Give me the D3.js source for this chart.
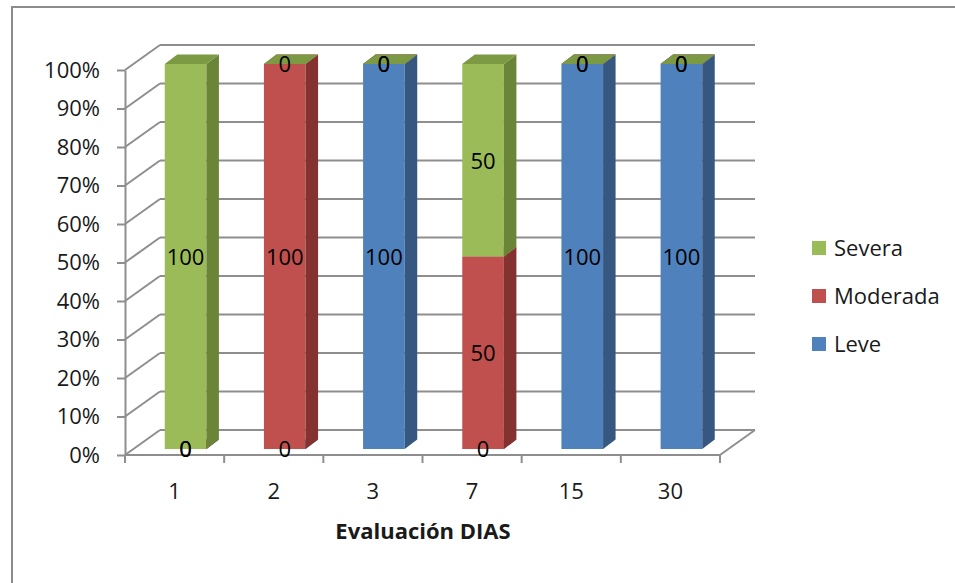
<!DOCTYPE html>
<html>
<head>
<meta charset="utf-8">
<script src="https://cdn.jsdelivr.net/npm/d3@7"></script>
<style>
  html, body { margin: 0; padding: 0; background: #fff; }
  svg { display: block; font-family: "Open Sans", "Noto Sans", sans-serif; }
</style>
</head>
<body>
<svg id="chart" width="955" height="583"></svg>
<script>
// Evaluation days and the share of each severity level
const categories = ["1", "2", "3", "7", "15", "30"];
const leve     = [0, 0, 100, 0, 100, 100];
const moderada = [0, 100, 0, 50, 0, 0];
const severa   = [100, 0, 0, 50, 0, 0];
const seriesNames = ["Leve", "Moderada", "Severa"];
const yTicks = [0, 0.1, 0.2, 0.3, 0.4, 0.5, 0.6, 0.7, 0.8, 0.9, 1];
const axisTitle = "Evaluación DIAS";

const seriesValues = [leve, moderada, severa];
const palette = {
  Leve:     { front: "#4F81BD", side: "#36577F", top: "#4272AB" },
  Moderada: { front: "#C0504D", side: "#833230", top: "#A84543" },
  Severa:   { front: "#9BBB59", side: "#6A8538", top: "#7B9A43" }
};

const svg = d3.select("#chart");
const gridColor = "#8e8e8e";

// outer chart frame
svg.append("rect")
  .attr("x", 12).attr("y", 7).attr("width", 980).attr("height", 600)
  .attr("fill", "none").attr("stroke", "#8c8c8c").attr("stroke-width", 2);

// front plane scales
const x = d3.scaleBand().domain(categories).range([125, 720]);
const y = d3.scaleLinear().domain([0, 1]).range([455, 70]);

// oblique projection of the plot depth
const depth = { dx: 35, dy: -25 };
const barOffset = { dx: 11, dy: -6 };   // front face of bars inside the box
const barDepth = { dx: 12.5, dy: -9.5 };
const barWidth = x.bandwidth() * 0.42;

const walls = svg.append("g");

// back wall gridlines and side wall diagonals
yTicks.forEach(t => {
  const yy = y(t);
  walls.append("line")
    .attr("x1", x.range()[0] + depth.dx).attr("y1", yy + depth.dy)
    .attr("x2", x.range()[1] + depth.dx).attr("y2", yy + depth.dy)
    .attr("stroke", gridColor).attr("stroke-width", 2);
  walls.append("line")
    .attr("x1", x.range()[0]).attr("y1", yy)
    .attr("x2", x.range()[0] + depth.dx).attr("y2", yy + depth.dy)
    .attr("stroke", gridColor).attr("stroke-width", 2);
});

// floor: front edge and right edge
walls.append("line")
  .attr("x1", x.range()[0]).attr("y1", y(0))
  .attr("x2", x.range()[1]).attr("y2", y(0))
  .attr("stroke", gridColor).attr("stroke-width", 2);
walls.append("line")
  .attr("x1", x.range()[1]).attr("y1", y(0))
  .attr("x2", x.range()[1] + depth.dx).attr("y2", y(0) + depth.dy)
  .attr("stroke", gridColor).attr("stroke-width", 2);

// vertical axis
const yAxis = d3.axisLeft(y)
  .tickValues(yTicks)
  .tickFormat(d3.format(".0%"))
  .tickSize(8)
  .tickSizeOuter(0)
  .tickPadding(17);
const gy = svg.append("g").attr("transform", `translate(${x.range()[0]},0)`).call(yAxis);
gy.select(".domain").attr("stroke", gridColor).attr("stroke-width", 2);
gy.selectAll(".tick line").attr("stroke", gridColor).attr("stroke-width", 2);
gy.selectAll(".tick text")
  .attr("font-size", 22).attr("fill", "#1a1a1a")
  .attr("font-family", "'Open Sans', sans-serif");

// horizontal axis: ticks between categories, labels centred
const gx = svg.append("g").attr("transform", `translate(0,${y(0)})`);
const boundaries = categories.map(c => x(c)).concat([x.range()[1]]);
gx.selectAll("line.tk").data(boundaries).join("line")
  .attr("class", "tk")
  .attr("x1", d => d).attr("x2", d => d)
  .attr("y1", 0).attr("y2", 8)
  .attr("stroke", gridColor).attr("stroke-width", 2);
gx.selectAll("text").data(categories).join("text")
  .attr("x", d => x(d) + x.bandwidth() / 2)
  .attr("y", 44)
  .attr("text-anchor", "middle")
  .attr("font-size", 22).attr("fill", "#1a1a1a")
  .text(d => d);

svg.append("text")
  .attr("x", 423).attr("y", 539)
  .attr("text-anchor", "middle")
  .attr("font-size", 22).attr("font-weight", "bold").attr("fill", "#1a1a1a")
  .text(axisTitle);

// stacked 100% data
const rows = categories.map((c, i) => {
  const row = { cat: c };
  seriesNames.forEach((s, k) => { row[s] = seriesValues[k][i]; });
  return row;
});
const stack = d3.stack().keys(seriesNames).offset(d3.stackOffsetExpand);
const stacked = stack(rows);

const bars = svg.append("g");
const labels = [];

stacked.forEach(layer => {
  const col = palette[layer.key];
  layer.forEach((seg, i) => {
    const cat = categories[i];
    const x0 = x(cat) + (x.bandwidth() - barWidth) / 2 + barOffset.dx;
    const x1 = x0 + barWidth;
    const yb = y(seg[0]) + barOffset.dy;
    const yt = y(seg[1]) + barOffset.dy;
    const g = bars.append("g");
    // front face
    g.append("path")
      .attr("d", `M${x0},${yb}L${x1},${yb}L${x1},${yt}L${x0},${yt}Z`)
      .attr("fill", col.front);
    // right side face
    g.append("path")
      .attr("d", `M${x1},${yb}L${x1 + barDepth.dx},${yb + barDepth.dy}L${x1 + barDepth.dx},${yt + barDepth.dy}L${x1},${yt}Z`)
      .attr("fill", col.side);
    // top face
    g.append("path")
      .attr("d", `M${x0},${yt}L${x1},${yt}L${x1 + barDepth.dx},${yt + barDepth.dy}L${x0 + barDepth.dx},${yt + barDepth.dy}Z`)
      .attr("fill", col.top);
    labels.push({
      x: (x0 + x1) / 2,
      y: (yb + yt) / 2,
      text: seg.data[layer.key]
    });
  });
});

// value labels on each segment
svg.append("g").selectAll("text").data(labels).join("text")
  .attr("x", d => d.x)
  .attr("y", d => d.y)
  .attr("dy", "0.38em")
  .attr("text-anchor", "middle")
  .attr("font-size", 22).attr("fill", "#000")
  .text(d => d.text);

// legend
const legendItems = ["Severa", "Moderada", "Leve"];
const legendY = d3.scalePoint().domain(legendItems).range([248, 344]);
const lg = svg.append("g");
legendItems.forEach(s => {
  lg.append("rect")
    .attr("x", 812).attr("y", legendY(s) - 7)
    .attr("width", 14).attr("height", 14)
    .attr("fill", palette[s].front);
  lg.append("text")
    .attr("x", 834).attr("y", legendY(s))
    .attr("dy", "0.36em")
    .attr("font-size", 22).attr("fill", "#1a1a1a")
    .text(s);
});
</script>
</body>
</html>
